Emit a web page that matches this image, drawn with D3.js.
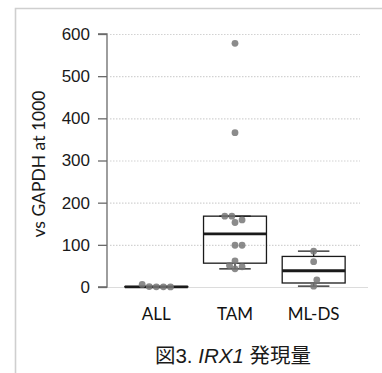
<!DOCTYPE html>
<html>
<head>
<meta charset="utf-8">
<script src="https://cdn.jsdelivr.net/npm/d3@7"></script>
<style>
  body { margin: 0; background: #fff; }
  svg { display: block; }
</style>
</head>
<body>
<div id="chart"></div>
<script>
// expression values
const categories = ['ALL', 'TAM', 'ML-DS'];
const allValues = [6, 1, 0.5, 0.3, 0.2];
const tamValues = [578, 366, 168, 168, 159, 153, 99, 99, 62, 51, 48, 43];
const mldsValues = [85, 60, 17, 2];
// horizontal spread of the dots, as fraction of the category step
const allJitter = [-0.18, -0.09, 0, 0.09, 0.18];
const tamJitter = [0, 0, -0.13, -0.04, 0.09, 0, 0, 0.09, 0, -0.07, 0.09, 0];
const mldsJitter = [0, 0, 0.04, 0];
const yTicks = [0, 100, 200, 300, 400, 500, 600];
const yTitle = 'vs GAPDH at 1000';

const width = 382;
const height = 373;
const margin = {top: 34, left: 107, right: 368, bottom: 287};

const groups = [
  {name: categories[0], values: allValues, jitter: allJitter},
  {name: categories[1], values: tamValues, jitter: tamJitter},
  {name: categories[2], values: mldsValues, jitter: mldsJitter}
];

// Tukey hinges, like R's fivenum
function fivenum(vals) {
  const x = vals.slice().sort(d3.ascending);
  const n = x.length;
  const n4 = Math.floor((n + 3) / 2) / 2;
  return [1, n4, (n + 1) / 2, n + 1 - n4, n]
      .map(v => 0.5 * (x[Math.floor(v) - 1] + x[Math.ceil(v) - 1]));
}

const svg = d3.select('#chart')
    .append('svg')
    .attr('width', width)
    .attr('height', height);

// frame
svg.append('path')
    .attr('d', `M15.5,${height}V8.5H${width}`)
    .attr('fill', 'none')
    .attr('stroke', '#cfcfcf')
    .attr('stroke-width', 1.6);

const x = d3.scalePoint()
    .domain(categories)
    .range([117, 353])
    .padding(0.5);
const step = x.step();

const y = d3.scaleLinear()
    .domain([0, 600])
    .range([margin.bottom, margin.top]);

// grid
svg.append('g')
    .selectAll('line')
    .data(yTicks.filter(d => d > 0))
    .enter().append('line')
    .attr('x1', 110)
    .attr('x2', 360)
    .attr('y1', d => y(d) + 0.5)
    .attr('y2', d => y(d) + 0.5)
    .attr('stroke', '#d2d2d2')
    .attr('stroke-width', 1.2)
    .attr('stroke-dasharray', '1.5,1.5');

svg.append('line')
    .attr('x1', margin.left)
    .attr('x2', margin.right)
    .attr('y1', y(0) + 0.5)
    .attr('y2', y(0) + 0.5)
    .attr('stroke', '#dcdcdc')
    .attr('stroke-width', 1.2);

// y axis
const yAxis = svg.append('g')
    .attr('transform', `translate(${margin.left},0)`)
    .call(d3.axisLeft(y).tickValues(yTicks).tickSize(9).tickPadding(8));
yAxis.selectAll('path, line').attr('stroke', '#6a6a6a').attr('stroke-width', 1.3);
yAxis.select('.domain').attr('d', `M-9,${y(600)}H0V${y(0)}H-9`);
yAxis.selectAll('text')
    .attr('fill', '#1a1a1a')
    .style('font-family', '"Liberation Sans", Arial, sans-serif')
    .style('font-size', '17px');

svg.append('text')
    .attr('transform', `translate(45,164) rotate(-90)`)
    .attr('text-anchor', 'middle')
    .attr('fill', '#1a1a1a')
    .style('font-family', 'Lato, "Open Sans", sans-serif')
    .style('font-size', '17.5px')
    .text(yTitle);

// boxes
const boxW = step * 0.8;
const capW = boxW / 2;

groups.forEach(g => {
  const [lo, q1, med, q3, hi] = fivenum(g.values);
  const iqr = q3 - q1;
  const inside = g.values.filter(v => v >= q1 - 1.5 * iqr && v <= q3 + 1.5 * iqr);
  const wLo = d3.min(inside);
  const wHi = d3.max(inside);
  const cx = x(g.name);
  const box = svg.append('g')
      .attr('fill', 'none')
      .attr('stroke', '#1a1a1a')
      .attr('stroke-width', 1.3);

  box.append('line')
      .attr('x1', cx).attr('x2', cx)
      .attr('y1', y(wHi)).attr('y2', y(q3));
  box.append('line')
      .attr('x1', cx).attr('x2', cx)
      .attr('y1', y(q1)).attr('y2', y(wLo));
  box.append('line')
      .attr('x1', cx - capW / 2).attr('x2', cx + capW / 2)
      .attr('y1', y(wHi)).attr('y2', y(wHi));
  box.append('line')
      .attr('x1', cx - capW / 2).attr('x2', cx + capW / 2)
      .attr('y1', y(wLo)).attr('y2', y(wLo));
  box.append('rect')
      .attr('x', cx - boxW / 2)
      .attr('y', y(q3))
      .attr('width', boxW)
      .attr('height', Math.max(0, y(q1) - y(q3)));
  box.append('line')
      .attr('x1', cx - boxW / 2).attr('x2', cx + boxW / 2)
      .attr('y1', y(med)).attr('y2', y(med))
      .attr('stroke-width', 2.8);

  svg.append('g')
      .selectAll('circle')
      .data(g.values)
      .enter().append('circle')
      .attr('cx', (d, i) => cx + g.jitter[i] * step)
      .attr('cy', d => y(d))
      .attr('r', 3.4)
      .attr('fill', '#777')
      .attr('fill-opacity', 0.85);
});

// category labels
svg.append('g')
    .selectAll('text')
    .data(categories)
    .enter().append('text')
    .attr('x', d => x(d))
    .attr('y', 320)
    .attr('text-anchor', 'middle')
    .attr('fill', '#111')
    .style('font-family', 'Lato, "Open Sans", sans-serif')
    .style('font-size', '17px')
    .text(d => d);

// caption
const caption = svg.append('text')
    .attr('x', 233)
    .attr('y', 363)
    .attr('text-anchor', 'middle')
    .attr('fill', '#1a1a1a')
    .style('font-family', '"Liberation Sans", "Noto Sans CJK JP", sans-serif')
    .style('font-size', '20.5px');
caption.append('tspan').text('図3. ');
caption.append('tspan').attr('font-style', 'italic').text('IRX1');
caption.append('tspan').text(' 発現量');
</script>
</body>
</html>
